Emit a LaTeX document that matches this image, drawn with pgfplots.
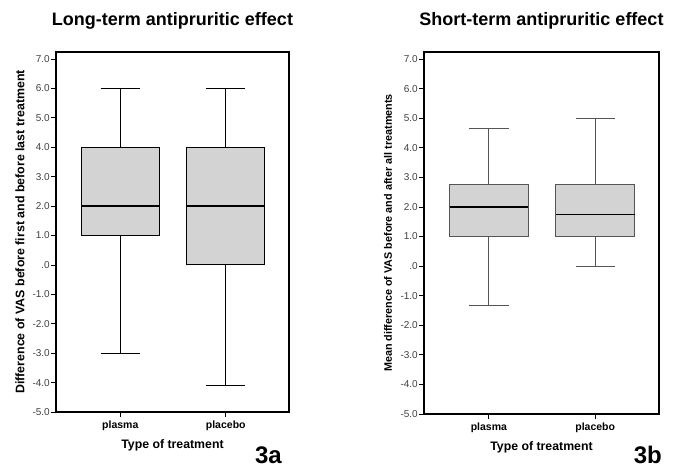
\documentclass[border=0pt]{standalone}
\usepackage{fontspec}
\setmainfont{Liberation Sans}
\usepackage{pgfplots}
\pgfplotsset{compat=1.18}
\usepgfplotslibrary{statistics}

\definecolor{boxgray}{RGB}{211,211,211}
\definecolor{ticktext}{RGB}{64,64,64}
\definecolor{linegray}{RGB}{85,85,85}

\pgfplotsset{
  spss/.style={
    scale only axis, clip=false,
    xmin=0.39, xmax=2.6,
    ymin=-5, ymax=7.24,
    xtick={1,2}, xticklabels={plasma,placebo},
    ytick={-5,-4,...,7},
    yticklabels={-5.0,-4.0,-3.0,-2.0,-1.0,.0,1.0,2.0,3.0,4.0,5.0,6.0,7.0},
    tick align=outside, tick pos=left,
    major tick length=5pt,
    tick style={line width=0.8pt, black},
    axis line style={line width=1.2pt},
    x tick label style={font=\fontsize{10.5}{12}\selectfont\bfseries},
    y tick label style={font=\fontsize{10}{12}\selectfont, text=ticktext, inner xsep=1pt},
    xlabel={Type of treatment},
    xlabel style={font=\fontsize{12.3}{14}\selectfont\bfseries, at={(axis description cs:0.5,0)}, anchor=base, yshift=-36pt},
    ylabel style={anchor=center},
    title style={font=\fontsize{18}{21}\selectfont\bfseries, at={(axis description cs:0.5,1)}, anchor=base, yshift=21pt},
    boxplot/draw direction=y,
    boxplot/box extend=0.74,
    boxplot/whisker extend=0.37,
    boxplot/every median/.style={line width=1.3pt, black},
  },
}

\begin{document}
\begin{tikzpicture}
\path[use as bounding box] (0pt,0pt) rectangle (685pt,469pt);

% 3a
\begin{axis}[spss,
  at={(56pt,57pt)}, anchor=south west,
  width=233pt, height=360pt,
  title={Long-term antipruritic effect},
  ylabel={Difference of VAS before first and before last treatment},
  ylabel style={font=\fontsize{12.4}{14}\selectfont\bfseries, at={(axis description cs:-0.155,0.5)}},
]
\addplot+[boxplot prepared={draw position=1,
  lower whisker=-3, lower quartile=1, median=2,
  upper quartile=4, upper whisker=6},
  draw=black, fill=boxgray, line width=0.9pt, solid, mark=none]
  coordinates {};
\addplot+[boxplot prepared={draw position=2,
  lower whisker=-4.1, lower quartile=0, median=2,
  upper quartile=4, upper whisker=6},
  draw=black, fill=boxgray, line width=0.9pt, solid, mark=none]
  coordinates {};
\node[font=\fontsize{24}{26}\selectfont\bfseries, anchor=base east, inner sep=0pt]
  at (axis description cs:0.97,-0.142) {3a};
\end{axis}

% 3b
\begin{axis}[spss,
  at={(424pt,55pt)}, anchor=south west,
  width=235pt, height=362pt,
  title={Short-term antipruritic effect},
  ylabel={Mean difference of VAS before and after all treatments},
  ylabel style={font=\fontsize{10.8}{13}\selectfont\bfseries, at={(axis description cs:-0.153,0.5)}},
]
\addplot+[boxplot prepared={draw position=1,
  lower whisker=-1.33, lower quartile=1, median=2,
  upper quartile=2.75, upper whisker=4.67},
  draw=linegray, fill=boxgray, line width=0.9pt, solid, mark=none]
  coordinates {};
\addplot+[boxplot prepared={draw position=2,
  lower whisker=0, lower quartile=1, median=1.75,
  upper quartile=2.75, upper whisker=5},
  draw=linegray, fill=boxgray, line width=0.9pt, solid, mark=none]
  coordinates {};
\node[font=\fontsize{24}{26}\selectfont\bfseries, anchor=base east, inner sep=0pt]
  at (axis description cs:1.013,-0.136) {3b};
\end{axis}
\end{tikzpicture}
\end{document}
